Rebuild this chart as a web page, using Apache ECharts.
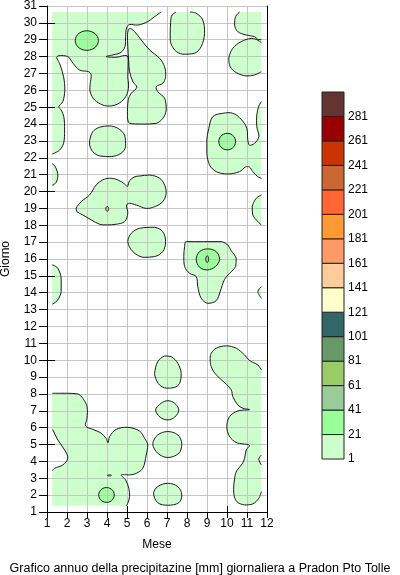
<!DOCTYPE html>
<html>
<head>
<meta charset="utf-8">
<script src="https://cdn.jsdelivr.net/npm/echarts@6/dist/echarts.min.js"></script>
<style>
html, body { margin: 0; padding: 0; background: #fff; }
#chart { width: 400px; height: 575px; }
</style>
</head>
<body>
<div id="chart"></div>
<script>
// axis ranges (mese, giorno)
var monthRange = [1, 12];
var dayRange = [1, 31];

// extent of the interpolated field
var edgeLeft = 1.26, edgeRight = 11.72, edgeBottom = 1.37, edgeTop = 30.64;

// colour scale of the legend
var rainLevels = [1, 21, 41, 61, 81, 101, 121, 141, 161, 181, 201, 221, 241, 261, 281];
var rainColors = ['#ccffcc', '#99ff99', '#99cc99', '#99cc66', '#669966', '#336666', '#ffffcc',
	'#ffcc99', '#ff9966', '#ff9933', '#ff6633', '#cc6633', '#cc3300', '#990000', '#663333'];

// contour outlines, [month, day]
var bandTop = [[1.26, 30.64], [6.71, 30.64], [6.3, 30.3], [6.04, 30.07], [5.54, 29.87], [5.13, 29.9], [4.98, 29.7],
	[4.93, 29.2], [4.9, 28.6], [4.7, 28.25], [4.3, 28.1], [3.96, 28.0], [4.46, 27.96], [5.0, 28.05], [5.06, 27.5],
	[5.04, 26.8], [5.08, 26.32], [5.04, 25.92], [4.88, 25.53], [4.54, 25.19], [4.13, 25.07], [3.79, 25.13],
	[3.38, 25.43], [3.16, 25.9], [3.16, 26.4], [3.21, 26.9], [3.09, 27.1], [2.63, 27.2], [2.3, 27.6], [2.04, 28.0],
	[1.5, 28.0], [1.66, 27.5], [1.83, 26.8], [1.89, 26.0], [1.79, 25.33], [1.59, 25.03], [1.71, 24.83], [1.84, 24.44],
	[1.88, 23.65], [1.83, 22.86], [1.63, 22.46], [1.29, 22.23], [1.26, 22.23]];
var columnJun = [[5.13, 29.68], [5.38, 29.48], [5.71, 28.99], [6.13, 28.39], [6.63, 27.9], [6.88, 27.4], [6.93, 26.81],
	[6.79, 26.42], [6.46, 26.22], [6.54, 25.92], [6.88, 25.53], [6.96, 24.83], [6.79, 24.34], [6.46, 24.04],
	[5.79, 24.0], [5.13, 24.04], [5.02, 24.5], [5.06, 25.43], [5.21, 25.82], [5.49, 26.18], [5.3, 26.5],
	[5.13, 27.1], [5.08, 27.8], [5.04, 28.6], [5.02, 29.3]];
var blobAug29 = [[7.21, 30.37], [7.45, 30.64], [8.15, 30.64], [8.46, 30.57], [8.79, 30.17], [8.88, 29.38], [8.71, 28.59],
	[8.38, 28.2], [7.79, 28.14], [7.38, 28.39], [7.16, 28.98]];
var blobNov30 = [[10.63, 30.64], [11.72, 30.64], [11.72, 29.0], [11.54, 29.02], [11.38, 29.18], [10.96, 29.28],
	[10.54, 29.48], [10.38, 29.87], [10.43, 30.37]];
var blobNov28 = [[11.72, 28.83], [11.72, 27.1], [11.63, 27.05], [11.38, 26.91], [10.96, 26.85], [10.46, 27.05],
	[10.16, 27.4], [10.09, 27.9], [10.29, 28.49], [10.71, 28.89], [11.21, 29.08], [11.46, 29.02]];
var blobApr23 = [[3.13, 23.02], [3.29, 23.55], [3.63, 23.81], [4.13, 23.89], [4.54, 23.75], [4.88, 23.35], [4.93, 22.66],
	[4.71, 22.27], [4.21, 22.07], [3.63, 22.11], [3.29, 22.36], [3.13, 22.76]];
var blobOct23 = [[9.09, 23.75], [9.29, 24.44], [9.79, 24.64], [10.29, 24.64], [10.71, 24.28], [10.99, 23.75],
	[11.04, 23.06], [11.12, 22.75], [11.38, 22.86], [11.59, 23.25], [11.49, 23.85], [11.49, 24.54], [11.59, 25.07],
	[11.72, 25.33], [11.72, 20.78], [11.54, 20.88], [11.29, 21.18], [11.12, 21.45], [10.92, 21.45], [10.63, 21.18],
	[10.04, 21.04], [9.46, 21.18], [9.13, 21.57], [8.99, 22.27], [8.99, 23.06]];
var blobJan21 = [[1.26, 21.65], [1.4, 21.5], [1.52, 21.15], [1.54, 20.85], [1.46, 20.55], [1.3, 20.38], [1.26, 20.38]];
var blobApr19 = [[2.46, 19.01], [2.71, 19.4], [3.13, 19.8], [3.46, 20.39], [3.79, 20.69], [4.13, 20.79], [4.54, 20.69],
	[4.88, 20.45], [5.02, 20.3], [5.13, 20.65], [5.4, 20.88], [5.63, 20.92], [6.13, 20.98], [6.63, 20.79],
	[6.88, 20.39], [6.96, 19.9], [6.79, 19.4], [6.38, 19.1], [5.96, 19.0], [5.46, 19.2], [5.13, 19.3], [4.98, 19.2],
	[5.04, 18.71], [4.88, 18.22], [4.46, 18.06], [3.96, 18.02], [3.63, 18.06], [3.21, 18.32], [2.79, 18.61],
	[2.49, 18.81]];
var blobNov19 = [[11.72, 19.8], [11.46, 19.6], [11.26, 19.1], [11.29, 18.61], [11.54, 18.22], [11.72, 18.02]];
var blobJun17 = [[5.04, 17.03], [5.21, 17.52], [5.63, 17.82], [6.38, 17.88], [6.79, 17.62], [6.93, 17.03], [6.79, 16.44],
	[6.38, 16.14], [5.79, 16.1], [5.29, 16.44]];
var blobSep16 = [[7.96, 17.03], [9.71, 17.03], [9.79, 17.01], [10.04, 16.83], [10.21, 16.5], [10.46, 16.04],
	[10.43, 15.55], [10.13, 15.15], [9.88, 14.8], [9.66, 14.07], [9.46, 13.53], [9.04, 13.37], [8.71, 13.67],
	[8.54, 14.36], [8.46, 14.96], [8.13, 15.15], [7.88, 15.55], [7.84, 16.14], [7.88, 16.73]];
var coreSep16 = [[8.46, 15.98], [8.63, 16.44], [9.04, 16.6], [9.46, 16.44], [9.63, 15.98], [9.42, 15.55], [9.01, 15.35],
	[8.63, 15.51]];
var blobJan14 = [[1.26, 15.65], [1.29, 15.65], [1.54, 15.45], [1.71, 14.86], [1.71, 14.07], [1.54, 13.57], [1.29, 13.33],
	[1.26, 13.33]];
var blobNov14 = [[11.72, 14.36], [11.54, 14.07], [11.72, 13.67]];
var blobJul9 = [[6.38, 9.22], [6.54, 9.92], [6.88, 10.25], [7.21, 10.21], [7.54, 9.82], [7.71, 9.22], [7.63, 8.63],
	[7.38, 8.38], [6.96, 8.34], [6.63, 8.53], [6.43, 8.93]];
var blobJul7 = [[6.43, 7.05], [6.71, 7.45], [7.04, 7.6], [7.38, 7.45], [7.59, 7.05], [7.38, 6.62], [7.04, 6.46], [6.66, 6.62]];
var blobJul5 = [[6.29, 5.04], [6.54, 5.57], [7.04, 5.77], [7.54, 5.57], [7.74, 5.04], [7.59, 4.48], [7.04, 4.23], [6.54, 4.48]];
var blobJul2 = [[6.33, 2.11], [6.54, 2.51], [7.04, 2.7], [7.54, 2.51], [7.74, 2.01], [7.59, 1.55], [7.04, 1.4], [6.54, 1.55]];
var blockJan5 = [[1.26, 8.04], [1.96, 8.04], [2.54, 8.0], [2.79, 7.74], [3.0, 7.25], [3.0, 6.56], [2.93, 6.1], [3.29, 5.9],
	[3.71, 5.67], [3.96, 5.35], [4.05, 5.1], [4.13, 5.47], [4.46, 5.9], [5.04, 6.02], [5.63, 5.8], [5.88, 5.37],
	[6.04, 4.98], [5.96, 4.38], [5.79, 3.59], [5.46, 3.29], [5.13, 3.2], [4.71, 3.2], [4.93, 2.9], [5.09, 2.41],
	[5.13, 1.91], [5.04, 1.52], [4.96, 1.37], [1.26, 1.37], [1.26, 3.45], [1.38, 3.59], [1.79, 3.79], [2.04, 4.19],
	[1.88, 4.68], [1.54, 5.27], [1.29, 5.87], [1.26, 5.87]];
var blockNov5 = [[9.16, 10.11], [9.21, 10.41], [9.46, 10.71], [9.96, 10.85], [10.46, 10.71], [10.88, 10.31], [11.13, 9.98],
	[11.54, 9.72], [11.72, 9.42], [11.72, 2.21], [11.59, 1.81], [11.29, 1.48], [10.88, 1.42], [10.49, 1.62],
	[10.34, 2.11], [10.38, 3.0], [10.49, 3.45], [10.76, 3.85], [10.88, 4.19], [10.96, 4.68], [11.12, 4.95],
	[10.79, 5.04], [10.46, 5.12], [10.13, 5.47], [9.99, 6.06], [10.13, 6.66], [10.54, 6.99], [11.13, 7.07],
	[10.79, 7.15], [10.54, 7.35], [10.29, 7.84], [10.21, 8.24], [9.88, 8.67], [9.46, 9.13], [9.21, 9.62]];
var holeNov4 = [[11.72, 4.38], [11.59, 4.13], [11.72, 3.79]];

// small closed contours: [month, day, half width, half height, level]
var ovals = [
	[2.99, 28.95, 0.58, 0.58, 1],
	[10.01, 22.96, 0.42, 0.49, 1],
	[3.975, 2.01, 0.39, 0.44, 1],
	[4.01, 18.97, 0.07, 0.14, 1],
	[9.01, 15.99, 0.07, 0.2, 2],
	[4.12, 3.17, 0.1, 0.03, -1]
];

// level -1 = below the first class (white)
var outlines = [
	[bandTop, 0], [columnJun, 0], [blobAug29, 0], [blobNov30, 0], [blobNov28, 0], [blobApr23, 0], [blobOct23, 0],
	[blobJan21, 0], [blobApr19, 0], [blobNov19, 0], [blobJun17, 0], [blobSep16, 0], [blobJan14, 0], [blobNov14, 0],
	[blobJul9, 0], [blobJul7, 0], [blobJul5, 0], [blobJul2, 0], [blockJan5, 0], [blockNov5, 0],
	[holeNov4, -1], [coreSep16, 1]
];

function ovalPoints(o) {
	var pts = [];
	for (var i = 0; i < 28; i++) {
		var a = i / 28 * Math.PI * 2;
		pts.push([o[0] + o[2] * Math.cos(a), o[1] + o[3] * Math.sin(a)]);
	}
	return pts;
}

var shapes = [];
outlines.forEach(function(s) { shapes.push({ pts: s[0], level: s[1], oval: false }); });
ovals.forEach(function(o) { shapes.push({ pts: ovalPoints(o), level: o[4], oval: true }); });
// paint order: first class, white holes, then the higher classes
shapes.sort(function(a, b) {
	var ka = a.level < 0 ? 0.5 : a.level, kb = b.level < 0 ? 0.5 : b.level;
	return ka - kb;
});

function levelColor(l) {
	return l < 0 ? '#ffffff' : rainColors[l];
}

// a segment lying on the border of the field gets no contour line
function onBorder(a, b) {
	var e = 0.015;
	return (Math.abs(a[0] - edgeLeft) < e && Math.abs(b[0] - edgeLeft) < e) ||
		(Math.abs(a[0] - edgeRight) < e && Math.abs(b[0] - edgeRight) < e) ||
		(Math.abs(a[1] - edgeBottom) < e && Math.abs(b[1] - edgeBottom) < e) ||
		(Math.abs(a[1] - edgeTop) < e && Math.abs(b[1] - edgeTop) < e);
}

function lineRuns(pts) {
	var n = pts.length, skip = [], start = -1, k;
	for (k = 0; k < n; k++) skip.push(onBorder(pts[k], pts[(k + 1) % n]));
	for (k = 0; k < n; k++) {
		if (skip[k]) { start = (k + 1) % n; break; }
	}
	if (start < 0) return null;
	var runs = [], cur = [pts[start]];
	for (var j = 0; j < n; j++) {
		var i = (start + j) % n;
		if (skip[i]) {
			if (cur.length > 1) runs.push(cur);
			cur = [pts[(i + 1) % n]];
		} else {
			cur.push(pts[(i + 1) % n]);
		}
	}
	if (cur.length > 1) runs.push(cur);
	return runs;
}

// pixel outline; border segments get extra points near their ends so corners stay sharp
function pixelOutline(pts, api) {
	var out = [], n = pts.length;
	for (var i = 0; i < n; i++) {
		var a = pts[i], b = pts[(i + 1) % n];
		var pa = api.coord(a), pb = api.coord(b);
		out.push(pa);
		if (onBorder(a, b)) {
			var len = Math.sqrt((pb[0] - pa[0]) * (pb[0] - pa[0]) + (pb[1] - pa[1]) * (pb[1] - pa[1]));
			if (len > 4) {
				var f = 1.5 / len;
				out.push([pa[0] + (pb[0] - pa[0]) * f, pa[1] + (pb[1] - pa[1]) * f]);
				out.push([pb[0] - (pb[0] - pa[0]) * f, pb[1] - (pb[1] - pa[1]) * f]);
			}
		}
	}
	return out;
}

function boxOf(px) {
	var lo = [Infinity, Infinity], hi = [-Infinity, -Infinity];
	px.forEach(function(p) {
		lo = [Math.min(lo[0], p[0]), Math.min(lo[1], p[1])];
		hi = [Math.max(hi[0], p[0]), Math.max(hi[1], p[1])];
	});
	return [lo, hi];
}

function renderFill(params, api) {
	var s = shapes[params.dataIndex];
	var px = pixelOutline(s.pts, api);
	return {
		type: 'polygon',
		shape: { points: px, smooth: s.oval ? 0 : 0.35, smoothConstraint: boxOf(px) },
		style: { fill: levelColor(s.level), stroke: null }
	};
}

function renderLine(params, api) {
	var s = shapes[params.dataIndex];
	var px = s.pts.map(function(p) { return api.coord(p); });
	var box = boxOf(px);
	var runs = lineRuns(s.pts);
	var style = { fill: 'none', stroke: '#1a1a1a', lineWidth: 1 };
	if (!runs) {
		return { type: 'polygon', shape: { points: px, smooth: s.oval ? 0 : 0.35, smoothConstraint: box }, style: style };
	}
	return {
		type: 'group',
		children: runs.map(function(r) {
			return {
				type: 'polyline',
				shape: { points: r.map(function(p) { return api.coord(p); }), smooth: 0.35, smoothConstraint: box },
				style: style
			};
		})
	};
}

function renderLegend(params, api) {
	var lo = api.value(1), hi = api.value(2);
	var a = api.coord([0, lo]), b = api.coord([1, hi]);
	return {
		type: 'rect',
		shape: { x: a[0], y: b[1], width: b[0] - a[0], height: a[1] - b[1] },
		style: { fill: rainColors[api.value(3)], stroke: '#222', lineWidth: 1 }
	};
}

var shapeData = shapes.map(function(s) { return [s.pts[0][0], s.pts[0][1]]; });
// legend axis runs from 0, labels show value + 1
var legendData = rainLevels.map(function(v, i) { return [0, v - 1, v + 19, i]; });

var labelFont = { fontSize: 12, color: '#000', fontFamily: 'Liberation Sans, Arial, sans-serif' };

var option = {
	animation: false,
	textStyle: { fontFamily: 'Liberation Sans, Arial, sans-serif', color: '#000' },
	title: {
		text: 'Grafico annuo della precipitazine [mm] giornaliera a Pradon Pto Tolle',
		left: 'center',
		top: 557,
		textStyle: { fontSize: 12.5, fontWeight: 'normal', color: '#000', fontFamily: 'Liberation Sans, Arial, sans-serif' }
	},
	grid: [
		{ left: 47, top: 6, width: 220, height: 506, containLabel: false, outerBoundsMode: 'none' },
		{ left: 47, top: 6 + 506 / 30, width: 220, height: 506 * 25 / 30, containLabel: false, outerBoundsMode: 'none' },
		{ left: 127, top: 6, width: 100, height: 506, containLabel: false, outerBoundsMode: 'none' },
		{ left: 322, top: 92, width: 22, height: 367, containLabel: false, outerBoundsMode: 'none' }
	],
	xAxis: [{
		gridIndex: 0,
		type: 'value',
		min: monthRange[0],
		max: monthRange[1],
		interval: 1,
		name: 'Mese',
		nameLocation: 'middle',
		nameGap: 27,
		nameMoveOverlap: false,
		nameTextStyle: labelFont,
		axisLine: { show: true, onZero: false, lineStyle: { color: '#000', width: 1 } },
		axisTick: { show: true, length: 6, lineStyle: { color: '#000' } },
		axisLabel: Object.assign({ margin: 6 }, labelFont),
		splitLine: { show: true, lineStyle: { color: '#c4c4c4', width: 1 } }
	}, {
		gridIndex: 1, type: 'value', min: 0, max: 1, show: false
	}, {
		gridIndex: 2,
		type: 'value',
		position: 'top',
		min: 5,
		max: 10,
		interval: 5,
		axisLine: { show: false },
		axisTick: { show: true, length: 6, lineStyle: { color: '#000' } },
		axisLabel: { show: false },
		splitLine: { show: false }
	}, {
		gridIndex: 3, type: 'value', min: 0, max: 1, show: false
	}],
	yAxis: [{
		gridIndex: 0,
		type: 'value',
		min: dayRange[0],
		max: dayRange[1],
		interval: 1,
		name: 'Giorno',
		nameLocation: 'middle',
		nameRotate: 90,
		nameGap: 35,
		nameMoveOverlap: false,
		nameTextStyle: labelFont,
		axisLine: { show: true, onZero: false, lineStyle: { color: '#000', width: 1 } },
		axisTick: { show: true, length: 8, lineStyle: { color: '#000' } },
		axisLabel: Object.assign({ margin: 10 }, labelFont),
		splitLine: { show: true, lineStyle: { color: '#c4c4c4', width: 1 } }
	}, {
		gridIndex: 0,
		type: 'value',
		position: 'right',
		min: dayRange[0],
		max: dayRange[1],
		axisLine: { show: true, onZero: false, lineStyle: { color: '#000', width: 1 } },
		axisTick: { show: false },
		axisLabel: { show: false },
		splitLine: { show: false }
	}, {
		gridIndex: 1,
		type: 'value',
		position: 'right',
		min: 5,
		max: 30,
		interval: 5,
		axisLine: { show: false },
		axisTick: { show: true, length: 8, lineStyle: { color: '#000' } },
		axisLabel: { show: false },
		splitLine: { show: false }
	}, {
		gridIndex: 2, type: 'value', min: 0, max: 1, show: false
	}, {
		gridIndex: 3,
		type: 'value',
		position: 'right',
		min: 0,
		max: 300,
		interval: 20,
		axisLine: { show: false },
		axisTick: { show: false },
		splitLine: { show: false },
		axisLabel: Object.assign({
			margin: 4,
			formatter: function(v) { return v >= 300 ? '' : String(v + 1); }
		}, labelFont)
	}],
	series: [{
		type: 'custom',
		name: 'fill',
		xAxisIndex: 0,
		yAxisIndex: 0,
		z: -1,
		renderItem: renderFill,
		data: shapeData,
		silent: true
	}, {
		type: 'custom',
		name: 'contour',
		xAxisIndex: 0,
		yAxisIndex: 0,
		z: 5,
		renderItem: renderLine,
		data: shapeData,
		silent: true
	}, {
		type: 'custom',
		name: 'legend',
		xAxisIndex: 3,
		yAxisIndex: 4,
		renderItem: renderLegend,
		data: legendData,
		silent: true
	}]
};

var myChart = echarts.init(document.getElementById('chart'), null, { renderer: 'canvas' });
myChart.setOption(option);
</script>
</body>
</html>
